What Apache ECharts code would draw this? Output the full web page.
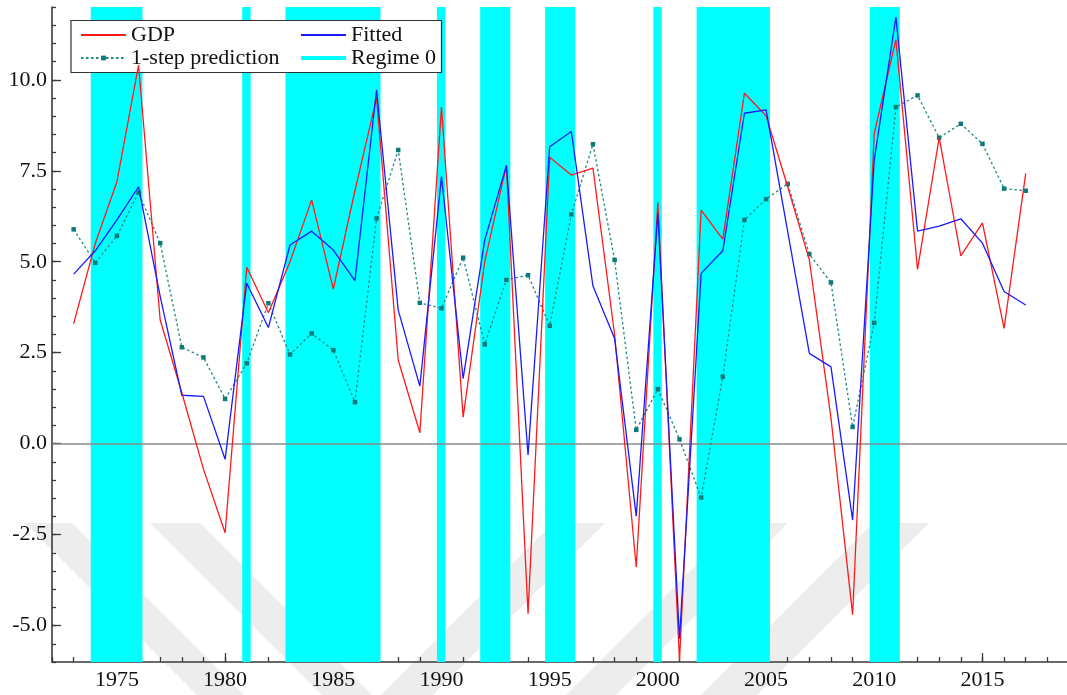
<!DOCTYPE html>
<html>
<head>
<meta charset="utf-8">
<title>GDP, fitted and 1-step prediction</title>
<script src="https://cdn.jsdelivr.net/npm/echarts@6/dist/echarts.min.js"></script>
<style>
  html, body { margin: 0; padding: 0; background: #fff; }
  #chart { width: 1067px; height: 695px; }
</style>
</head>
<body>
<div id="chart"></div>
<script>
// yearly values
var years = [1973,1974,1975,1976,1977,1978,1979,1980,1981,1982,1983,1984,1985,1986,1987,1988,1989,1990,
             1991,1992,1993,1994,1995,1996,1997,1998,1999,2000,2001,2002,2003,2004,2005,2006,2007,2008,
             2009,2010,2011,2012,2013,2014,2015,2016,2017];
var gdp = [3.3,5.5,7.2,10.4,3.4,1.4,-0.7,-2.45,4.85,3.6,5.0,6.7,4.25,6.95,9.5,2.3,0.3,9.25,
           0.73,5.0,7.65,-4.67,7.87,7.38,7.57,3.0,-3.39,6.63,-5.96,6.42,5.62,9.63,9.01,7.06,5.05,0.7,
           -4.7,8.53,11.1,4.79,8.41,5.16,6.07,3.17,7.43];
var fitted = [4.66,5.3,6.15,7.06,4.05,1.33,1.3,-0.43,4.41,3.19,5.46,5.84,5.32,4.48,9.72,3.67,1.58,7.34,
              1.79,5.6,7.64,-0.31,8.16,8.58,4.33,2.89,-1.99,6.33,-5.36,4.68,5.3,9.08,9.17,5.83,2.48,2.11,
              -2.1,7.8,11.72,5.84,5.98,6.18,5.51,4.18,3.81];
var pred = [5.89,4.97,5.71,6.9,5.51,2.65,2.37,1.23,2.21,3.86,2.45,3.03,2.57,1.14,6.19,8.07,3.87,3.72,
            5.11,2.73,4.5,4.63,3.24,6.3,8.23,5.05,0.38,1.5,0.12,-1.48,1.84,6.15,6.72,7.14,5.21,4.43,
            0.46,3.32,9.25,9.57,8.41,8.79,8.24,7.01,6.95];
// first and last year of each regime 0 spell
var regimeStart = [1974,1981,1983,1990,1992,1995,2000,2002,2010];
var regimeEnd   = [1976,1981,1987,1990,1993,1996,2000,2005,2011];
var xTicks = [1975,1980,1985,1990,1995,2000,2005,2010,2015];
var yTicks = [-5,-2.5,0,2.5,5,7.5,10];

var serif = 'Liberation Serif';
var axisCol = '#3a3a3a';

function pairs(vals){
    return years.map(function(y,i){ return [y, vals[i]]; });
}

var bands = [];
for (var i = 0; i < regimeStart.length; i++) {
    bands.push([{xAxis: regimeStart[i] - 0.21}, {xAxis: regimeEnd[i] + 0.18}]);
}

// faint background watermark stripes
var wm = [
    [[25,523],[72,523],[245,696],[198,696]],
    [[150,523],[200,523],[373,696],[323,696]],
    [[380,696],[432,696],[605,523],[553,523]],
    [[565,696],[615,696],[788,523],[738,523]],
    [[700,696],[756,696],[929,523],[873,523]]
];
var graphics = wm.map(function(p){
    return {type:'polygon', z:0, silent:true, shape:{points:p}, style:{fill:'#ededed'}};
});
graphics.push({
    type:'rect', z:3, silent:true,
    shape:{x:71, y:20.5, width:370.5, height:52},
    style:{fill:'#fff', stroke:'#333', lineWidth:1.2}
});

var chart = echarts.init(document.getElementById('chart'));
var option = {
    animation: false,
    backgroundColor: '#fff',
    grid: {left: 52, top: 7, width: 1017, height: 655, outerBoundsMode: 'none'},
    graphic: graphics,
    legend: [
        {
            data: [
                {name:'GDP', itemStyle:{opacity:0}},
                {name:'1-step prediction'}
            ],
            orient: 'vertical', left: 75, top: 19, itemWidth: 45, itemHeight: 6, itemGap: 1,
            selectedMode: false, z: 5,
            textStyle: {fontFamily: serif, fontSize: 22, color: '#111'}
        },
        {
            data: [
                {name:'Fitted', itemStyle:{opacity:0}},
                {name:'Regime 0', itemStyle:{opacity:0}, lineStyle:{width:4, color:'#00ffff'}}
            ],
            orient: 'vertical', left: 294, top: 19, itemWidth: 45, itemHeight: 6, itemGap: 1,
            selectedMode: false, z: 5,
            textStyle: {fontFamily: serif, fontSize: 22, color: '#111'}
        }
    ],
    xAxis: [
        {
            type: 'value', min: 1972, max: 2019, interval: 1, position: 'bottom',
            axisLine: {show: true, onZero: false, lineStyle: {color: axisCol, width: 1.6}},
            axisTick: {show: true, inside: true, length: 5, lineStyle: {color: axisCol, width: 1.3}},
            axisLabel: {
                show: true, customValues: xTicks, margin: 7, fontSize: 22, color: '#111', fontFamily: serif,
                formatter: function(v){ return String(v); }
            },
            splitLine: {show: false}
        },
        {
            type: 'value', min: 1972, max: 2019, position: 'bottom',
            axisLine: {show: false, onZero: false},
            axisTick: {show: true, inside: true, length: 9, customValues: xTicks, lineStyle: {color: axisCol, width: 1.3}},
            axisLabel: {show: false},
            splitLine: {show: false}
        }
    ],
    yAxis: [
        {
            type: 'value', min: -6, max: 12, interval: 0.5,
            axisLine: {show: true, onZero: false, lineStyle: {color: axisCol, width: 1.6}},
            axisTick: {show: true, inside: true, length: 4, lineStyle: {color: axisCol, width: 1.3}},
            axisLabel: {
                show: true, customValues: yTicks, margin: 5, fontSize: 22, color: '#111', fontFamily: serif,
                formatter: function(v){ return v.toFixed(1); }
            },
            splitLine: {show: false}
        },
        {
            type: 'value', min: -6, max: 12, position: 'left',
            axisLine: {show: false, onZero: false},
            axisTick: {show: true, inside: true, length: 9, customValues: yTicks, lineStyle: {color: axisCol, width: 1.3}},
            axisLabel: {show: false},
            splitLine: {show: false}
        }
    ],
    series: [
        {
            name: 'Regime 0', type: 'line', data: [], symbol: 'none',
            lineStyle: {color: '#00ffff', width: 4},
            itemStyle: {color: '#00ffff'},
            markArea: {silent: true, z: 1, itemStyle: {color: '#00ffff', opacity: 1}, data: bands}
        },
        {
            name: '1-step prediction', type: 'line', data: pairs(pred),
            symbol: 'rect', symbolSize: 4.5, z: 3,
            lineStyle: {color: '#1d8787', width: 1.3, type: [2.5, 2.5]},
            itemStyle: {color: '#0f7a7a'}
        },
        {
            name: 'GDP', type: 'line', data: pairs(gdp), symbol: 'none', z: 4,
            lineStyle: {color: '#ff1a1a', width: 1.3},
            itemStyle: {color: '#ff1a1a'},
            markLine: {
                silent: true, symbol: 'none', z: 2, label: {show: false},
                lineStyle: {color: '#8a8a8a', width: 1.5, type: 'solid'},
                data: [{yAxis: 0}]
            }
        },
        {
            name: 'Fitted', type: 'line', data: pairs(fitted), symbol: 'none', z: 5,
            lineStyle: {color: '#1a1aff', width: 1.3},
            itemStyle: {color: '#1a1aff'}
        }
    ]
};
chart.setOption(option);
</script>
</body>
</html>
